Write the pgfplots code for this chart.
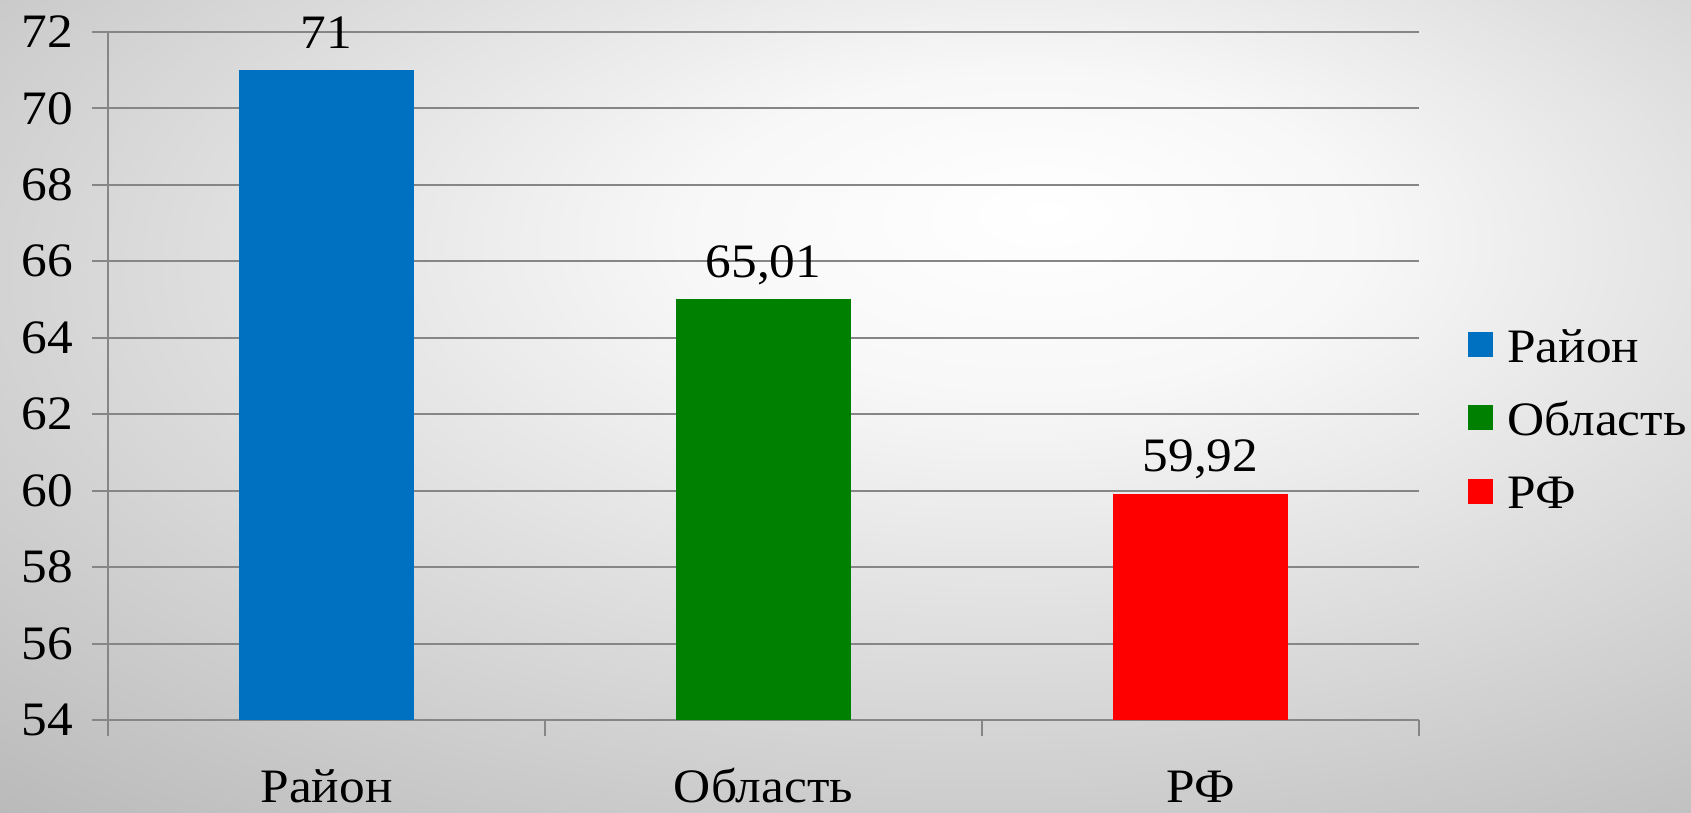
\documentclass[border=0pt]{standalone}
\usepackage{fontspec}
\setmainfont{Liberation Serif}[FakeStretch=1.07]
\usepackage{pgfplots}
\pgfplotsset{compat=1.18}
\pgfdeclareradialshading{bgshade}{\pgfpoint{6bp}{12bp}}{color(0bp)=(white); color(10bp)=(white!97!black); color(50bp)=(black!33); color(90bp)=(black!40)}
\pgfplotsset{sqlegend/.style={legend image code/.code={\fill[##1,draw=none] (0bp,-3.45bp) rectangle (12.5bp,9.05bp);}}}
\definecolor{cblue}{HTML}{0070C0}
\definecolor{cgreen}{HTML}{008000}
\definecolor{cred}{HTML}{FF0000}
\definecolor{gridc}{HTML}{868686}
\begin{document}
\fontsize{24bp}{28bp}\selectfont
\begin{tikzpicture}[font=\fontsize{24bp}{28bp}\selectfont]
\useasboundingbox (0,0) rectangle (845.5bp,406.5bp);
\shade[shading=bgshade] (0,0) rectangle (845.5bp,406.5bp);
\begin{axis}[
  at={(54bp,46.5bp)}, anchor=south west,
  scale only axis, width=655.5bp, height=344bp,
  xmin=-0.5, xmax=2.5, ymin=54, ymax=72,
  ytick={54,56,...,72},
  xtick={0,1,2}, xticklabels={Район,Область,РФ},
  minor xtick={-0.5,0.5,1.5,2.5},
  axis lines*=left,
  axis line style={draw=gridc, line width=1bp},
  ymajorgrids, grid style={draw=gridc, line width=1bp},
  tick align=outside,
  major tick length=8bp, minor tick length=8bp,
  tick style={draw=gridc, line width=1bp},
  major x tick style={draw=none},
  /pgf/number format/assume math mode=true,
  yticklabel style={anchor=east, inner sep=0pt, xshift=-9.3bp},
  xticklabel style={anchor=base, inner sep=0pt, yshift=-33bp},
  ybar, bar width=87.5bp,
  nodes near coords, point meta=explicit symbolic,
  every node near coord/.append style={anchor=base, yshift=11bp, inner sep=0pt, text=black},
  legend cell align=left,
  legend style={draw=none, fill=none, at={(1,0.431)}, anchor=west, xshift=24.5bp,
    inner sep=0pt, row sep=14.7bp, column sep=7bp,
    nodes={inner sep=0pt, text height=17bp, text depth=5bp}},
]
\addplot[fill=cblue, draw=none, bar shift=0pt, sqlegend] coordinates {(0,71) [71]};
\addplot[fill=cgreen, draw=none, bar shift=0pt, sqlegend] coordinates {(1,65.01) [65,01]};
\addplot[fill=cred, draw=none, bar shift=0pt, sqlegend] coordinates {(2,59.92) [59,92]};
\legend{Район,Область,РФ}
\end{axis}
\end{tikzpicture}
\end{document}
